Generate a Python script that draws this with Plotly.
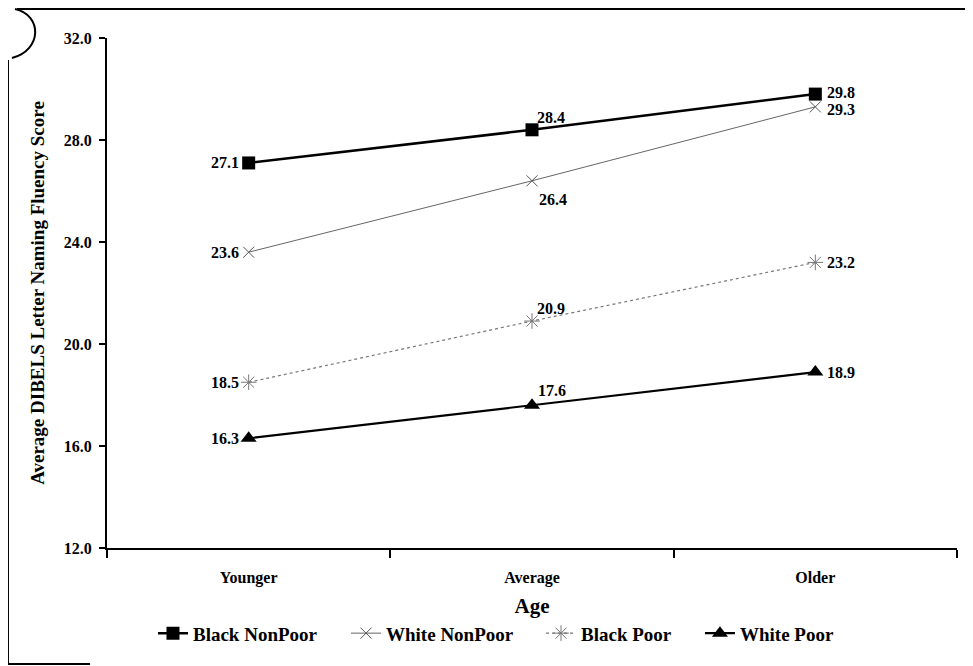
import plotly.graph_objects as go

categories = ["Younger", "Average", "Older"]
black_nonpoor = [27.1, 28.4, 29.8]
white_nonpoor = [23.6, 26.4, 29.3]
black_poor = [18.5, 20.9, 23.2]
white_poor = [16.3, 17.6, 18.9]
y_ticks = [12, 16, 20, 24, 28, 32]

FONT = "Liberation Serif"
lab = dict(family=FONT, size=16, color="black", weight="bold")

series = [
    dict(name="Black NonPoor", y=black_nonpoor, legend="legend", lx=0.0541,
         line=dict(color="black", width=2.5),
         marker=dict(symbol="square", size=13, color="black"),
         shifts=[(-8, 0), (19, 12), (10, 2)]),
    dict(name="White NonPoor", y=white_nonpoor, legend="legend2", lx=0.2812,
         line=dict(color="#666666", width=1),
         marker=dict(symbol="x-thin", size=11, color="#555555", line=dict(width=1, color="#555555")),
         shifts=[(-8, 0), (21, -19), (10, -3)]),
    dict(name="Black Poor", y=black_poor, legend="legend3", lx=0.5106,
         line=dict(color="#777777", width=1.2, dash="dot"),
         marker=dict(symbol="asterisk-open", size=13, color="#777777", line=dict(width=1, color="#777777")),
         shifts=[(-8, 0), (19, 13), (10, 0)]),
    dict(name="White Poor", y=white_poor, legend="legend4", lx=0.6976,
         line=dict(color="black", width=2.2),
         marker=dict(symbol="triangle-up", size=14, color="black"),
         shifts=[(-8, 0), (20, 15), (10, 0)]),
]

fig = go.Figure()
annotations = []
anchors = ["right", "center", "left"]
legend_layouts = {}
for s in series:
    fig.add_trace(go.Scatter(x=categories, y=s["y"], name=s["name"], mode="lines+markers",
                             line=s["line"], marker=s["marker"], legend=s["legend"],
                             showlegend=True))
    legend_layouts[s["legend"]] = dict(
        orientation="h", x=s["lx"], xanchor="left", y=-0.13, yanchor="top",
        bgcolor="rgba(0,0,0,0)",
        font=dict(family=FONT, size=19, color="black", weight="bold"))
    for i, (cat, v) in enumerate(zip(categories, s["y"])):
        dx, dy = s["shifts"][i]
        annotations.append(dict(x=cat, y=v, xref="x", yref="y", text=f"{v:.1f}",
                                showarrow=False, xanchor=anchors[i], yanchor="middle",
                                xshift=dx, yshift=dy, font=lab))

fig.update_layout(
    width=973, height=666,
    margin=dict(l=99, r=24, t=30, b=126),
    paper_bgcolor="white", plot_bgcolor="white",
    font=dict(family=FONT, color="black"),
    showlegend=True,
    annotations=annotations,
    xaxis=dict(
        type="category", range=[-0.5, 2.5], tickson="boundaries",
        ticks="outside", ticklen=8, tickwidth=2, tickcolor="black",
        showline=True, linecolor="black", linewidth=2, showgrid=False,
        tickfont=dict(family=FONT, size=16, color="black", weight="bold"),
        ticklabelstandoff=14,
        title=dict(text="Age", font=dict(family=FONT, size=21, color="black", weight="bold"), standoff=12),
    ),
    yaxis=dict(
        range=[12, 32], tickvals=y_ticks, tickformat=".1f",
        ticks="outside", ticklen=6, tickwidth=2, tickcolor="black",
        showline=True, linecolor="black", linewidth=2, showgrid=False, zeroline=False,
        tickfont=dict(family=FONT, size=16, color="black", weight="bold"),
        ticklabelstandoff=4,
        title=dict(text="Average DIBELS Letter Naming Fluency Score",
                   font=dict(family=FONT, size=19, color="black", weight="bold"), standoff=14),
    ),
)
fig.update_layout(**legend_layouts)

# scanned page frame
frame = dict(color="black", width=2)
fig.add_shape(type="line", xref="paper", yref="paper", x0=-0.106, x1=1.03, y0=1.0569, y1=1.0569, line=frame)
fig.add_shape(type="line", xref="paper", yref="paper", x0=-0.1165, x1=-0.1165, y0=0.957, y1=-0.2275, line=frame)
fig.add_shape(type="line", xref="paper", yref="paper", x0=-0.1165, x1=-0.02, y0=-0.2275, y1=-0.2275, line=frame)
fig.add_shape(type="path", xref="paper", yref="paper",
              path="M -0.1082,1.0569 C -0.0760,1.0451 -0.0760,0.9765 -0.1118,0.9608", line=frame)

fig.write_html("out.html")
